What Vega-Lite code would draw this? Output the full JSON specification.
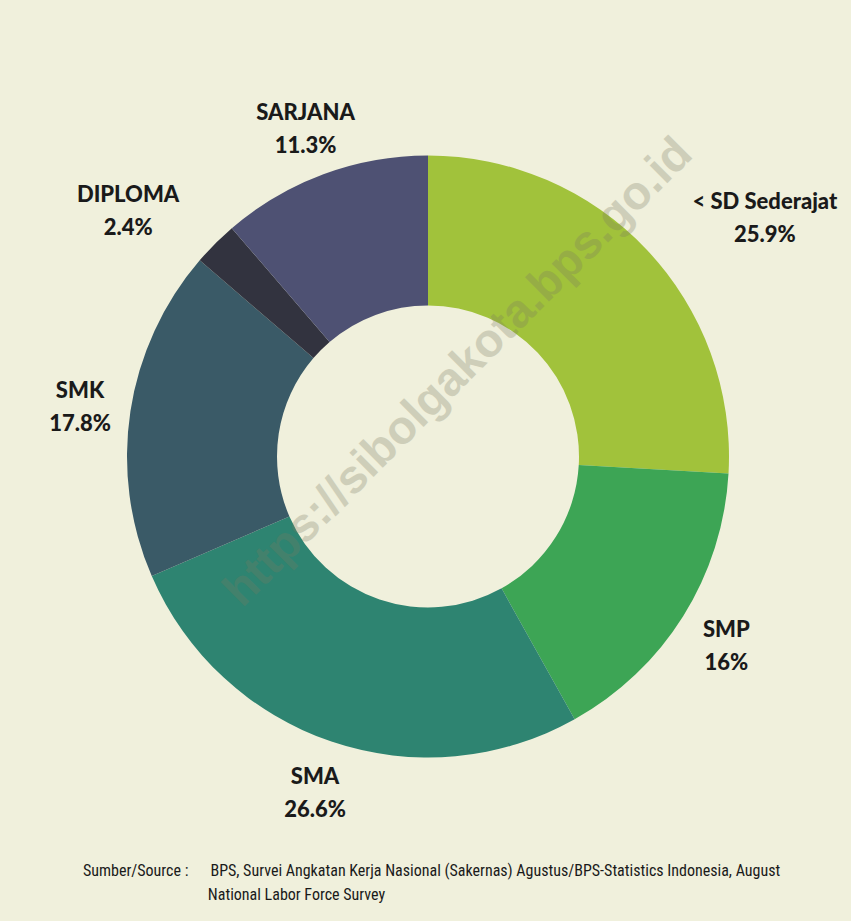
{
  "$schema": "https://vega.github.io/schema/vega-lite/v6.json",
  "width": 846,
  "height": 807,
  "autosize": "none",
  "padding": {"left": 5, "top": 53, "right": 0, "bottom": 61},
  "background": "#F0F0DC",
  "view": {"stroke": null},
  "config": {"text": {"font": "Lato"}},
  "title": {
    "text": [
      "Sumber/Source :\u00a0\u00a0\u00a0\u00a0\u00a0\u00a0BPS, Survei Angkatan Kerja Nasional (Sakernas) Agustus/BPS-Statistics Indonesia, August",
      "\u200b\u00a0\u00a0\u00a0\u00a0\u00a0\u00a0\u00a0\u00a0\u00a0\u00a0\u00a0\u00a0\u00a0\u00a0\u00a0\u00a0\u00a0\u00a0\u00a0\u00a0\u00a0\u00a0\u00a0\u00a0\u00a0\u00a0\u00a0\u00a0\u00a0\u00a0\u00a0\u00a0\u00a0\u00a0National Labor Force Survey"
    ],
    "orient": "bottom",
    "anchor": "start",
    "frame": "group",
    "dx": 78,
    "offset": 3,
    "baseline": "top",
    "font": "Noto Sans Condensed, Noto Sans ExtraCondensed, Roboto Condensed, Liberation Sans Narrow, Roboto",
    "fontSize": 16,
    "fontWeight": "normal",
    "color": "#1a1a1a",
    "lineHeight": 24
  },
  "data": {
    "values": [
      {"kat": "< SD Sederajat", "v": 0.259, "urut": 1},
      {"kat": "SMP", "v": 0.16, "urut": 2},
      {"kat": "SMA", "v": 0.266, "urut": 3},
      {"kat": "SMK", "v": 0.178, "urut": 4},
      {"kat": "DIPLOMA", "v": 0.024, "urut": 5},
      {"kat": "SARJANA", "v": 0.113, "urut": 6}
    ]
  },
  "layer": [
    {
      "mark": {"type": "arc", "outerRadius": 301, "innerRadius": 151},
      "encoding": {
        "theta": {"field": "v", "type": "quantitative", "stack": true},
        "order": {"field": "urut", "type": "quantitative"},
        "color": {
          "field": "kat",
          "type": "nominal",
          "scale": {
            "domain": ["< SD Sederajat", "SMP", "SMA", "SMK", "DIPLOMA", "SARJANA"],
            "range": ["#A1C23B", "#3DA555", "#2E8471", "#3A5A67", "#32333F", "#4E5173"]
          },
          "legend": null
        }
      }
    },
    {
      "data": {"values": [{"wm": "https://sibolgakota.bps.go.id"}]},
      "mark": {"type": "text", "angle": -45, "align": "center", "baseline": "middle", "dx": 81, "dy": -38, "font": "Liberation Sans, Arial, sans-serif", "fontWeight": "bold", "fontSize": 47, "fill": "#7A7A60", "opacity": 0.28},
      "encoding": {"text": {"field": "wm", "type": "nominal"}}
    },
    {
      "mark": {"type": "text", "radius": 352, "dy": -13, "align": "center", "baseline": "middle", "fontSize": 22, "fontWeight": 900, "fill": "#1a1a1a"},
      "encoding": {
        "theta": {"field": "v", "type": "quantitative", "stack": true},
        "order": {"field": "urut", "type": "quantitative"},
        "text": {"condition": {"test": "datum.kat !== 'DIPLOMA' && datum.kat !== '< SD Sederajat'", "field": "kat", "type": "nominal"}, "value": ""}
      }
    },
    {
      "mark": {"type": "text", "radius": 352, "dy": 20, "align": "center", "baseline": "middle", "fontSize": 22, "fontWeight": 900, "fill": "#1a1a1a"},
      "encoding": {
        "theta": {"field": "v", "type": "quantitative", "stack": true},
        "order": {"field": "urut", "type": "quantitative"},
        "text": {"condition": {"test": "datum.kat !== 'DIPLOMA' && datum.kat !== '< SD Sederajat'", "field": "v", "type": "quantitative", "format": ".1~%"}, "value": ""}
      }
    },
    {
      "mark": {"type": "text", "radius": 352, "dx": -51, "dy": -13, "align": "center", "baseline": "middle", "fontSize": 22, "fontWeight": 900, "fill": "#1a1a1a"},
      "encoding": {
        "theta": {"field": "v", "type": "quantitative", "stack": true},
        "order": {"field": "urut", "type": "quantitative"},
        "text": {"condition": {"test": "datum.kat === 'DIPLOMA'", "field": "kat", "type": "nominal"}, "value": ""}
      }
    },
    {
      "mark": {"type": "text", "radius": 352, "dx": -51, "dy": 20, "align": "center", "baseline": "middle", "fontSize": 22, "fontWeight": 900, "fill": "#1a1a1a"},
      "encoding": {
        "theta": {"field": "v", "type": "quantitative", "stack": true},
        "order": {"field": "urut", "type": "quantitative"},
        "text": {"condition": {"test": "datum.kat === 'DIPLOMA'", "field": "v", "type": "quantitative", "format": ".1~%"}, "value": ""}
      }
    },
    {
      "mark": {"type": "text", "radius": 352, "dx": 81, "dy": -13, "align": "center", "baseline": "middle", "fontSize": 22, "fontWeight": 900, "fill": "#1a1a1a"},
      "encoding": {
        "theta": {"field": "v", "type": "quantitative", "stack": true},
        "order": {"field": "urut", "type": "quantitative"},
        "text": {"condition": {"test": "datum.kat === '< SD Sederajat'", "field": "kat", "type": "nominal"}, "value": ""}
      }
    },
    {
      "mark": {"type": "text", "radius": 352, "dx": 81, "dy": 20, "align": "center", "baseline": "middle", "fontSize": 22, "fontWeight": 900, "fill": "#1a1a1a"},
      "encoding": {
        "theta": {"field": "v", "type": "quantitative", "stack": true},
        "order": {"field": "urut", "type": "quantitative"},
        "text": {"condition": {"test": "datum.kat === '< SD Sederajat'", "field": "v", "type": "quantitative", "format": ".1~%"}, "value": ""}
      }
    }
  ]
}
